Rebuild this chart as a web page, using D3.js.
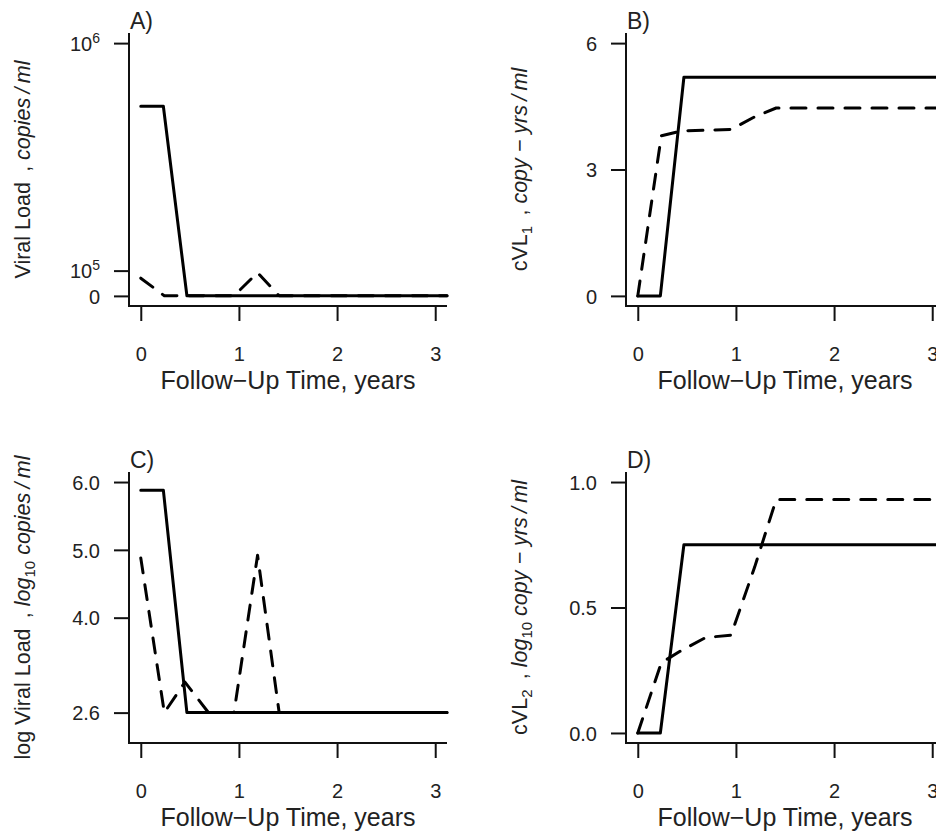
<!DOCTYPE html>
<html>
<head>
<meta charset="utf-8">
<script src="https://cdn.jsdelivr.net/npm/d3@7"></script>
<style>
  body { margin: 0; background: #fff; }
  svg { display: block; }
  text { font-family: "Liberation Sans", Arial, sans-serif; fill: #222; }
</style>
</head>
<body>
<div id="fig"></div>
<script>
// time axis (years)
const xTicks = [0, 1, 2, 3];
const solidTimes = [0, 0.23, 0.47, 3.12];
const dashedTimes = [0, 0.24, 0.45, 0.69, 0.95, 1.19, 1.41, 3.12];

// A) viral load, copies/ml
const vlSolid = [750000, 750000, 400, 400];
const vlDashed = [70000, 400, 1100, 400, 400, 92000, 400, 400];
const vlTicks = [0, 100000, 1000000];
const vlTickLabels = [["0"], ["10", "5"], ["10", "6"]];

// B) cVL1, copy-yrs/ml
const cvl1Solid = [0, 0, 5.19, 5.19];
const cvl1Dashed = [0, 3.8, 3.92, 3.93, 3.95, 4.25, 4.46, 4.46];
const cvl1Ticks = [0, 3, 6];
const cvl1TickLabels = [["0"], ["3"], ["6"]];

// C) log10 viral load
const logSolid = [5.88, 5.88, 2.6, 2.6];
const logDashed = [4.88, 2.6, 3.05, 2.6, 2.6, 4.92, 2.6, 2.6];
const logTicks = [2.6, 4, 5, 6];
const logTickLabels = [["2.6"], ["4.0"], ["5.0"], ["6.0"]];

// D) cVL2, log10 copy-yrs/ml
const cvl2Solid = [0, 0, 0.75, 0.75];
const cvl2Dashed = [0, 0.28, 0.33, 0.38, 0.39, 0.66, 0.93, 0.93];
const cvl2Ticks = [0, 0.5, 1];
const cvl2TickLabels = [["0.0"], ["0.5"], ["1.0"]];

const W = 936, H = 833;
const svg = d3.select("#fig").append("svg")
    .attr("width", W)
    .attr("height", H);

const thin = "\u2009";
const panels = [
    { tag: "A)", left: 129, top: 33, bottom: 306, yDomain: [-40000, 1040000],
      solid: vlSolid, dashed: vlDashed, ticks: vlTicks, labels: vlTickLabels,
      title: [{t: "Viral Load" + thin + " , "}, {t: "copies" + thin + "/" + thin + "ml", it: true}] },
    { tag: "B)", left: 626, top: 33, bottom: 306, yDomain: [-0.24, 6.24],
      solid: cvl1Solid, dashed: cvl1Dashed, ticks: cvl1Ticks, labels: cvl1TickLabels,
      title: [{t: "cVL"}, {t: "1", sub: true}, {t: thin + " , "}, {t: "copy \u2212 yrs" + thin + "/" + thin + "ml", it: true}] },
    { tag: "C)", left: 129, top: 472, bottom: 743, yDomain: [2.152, 6.148],
      solid: logSolid, dashed: logDashed, ticks: logTicks, labels: logTickLabels,
      title: [{t: "log Viral Load" + thin + " , "}, {t: "log", it: true}, {t: "10", sub: true}, {t: " copies" + thin + "/" + thin + "ml", it: true}] },
    { tag: "D)", left: 626, top: 472, bottom: 743, yDomain: [-0.04, 1.04],
      solid: cvl2Solid, dashed: cvl2Dashed, ticks: cvl2Ticks, labels: cvl2TickLabels,
      title: [{t: "cVL"}, {t: "2", sub: true}, {t: thin + " , "}, {t: "log", it: true}, {t: "10", sub: true}, {t: " copy \u2212 yrs" + thin + "/" + thin + "ml", it: true}] }
];

const plotW = 318;

function drawPanel(p) {
    const right = p.left + plotW;
    const g = svg.append("g");

    const x = d3.scaleLinear().domain([-0.12, 3.12]).range([p.left, right]);
    const y = d3.scaleLinear().domain(p.yDomain).range([p.bottom, p.top]);

    // x axis ticks
    const xa = g.append("g")
        .attr("transform", `translate(0,${p.bottom})`)
        .call(d3.axisBottom(x).tickValues(xTicks).tickFormat(d3.format("d"))
            .tickSize(15).tickPadding(26));
    xa.select(".domain").remove();
    xa.selectAll("line").attr("stroke", "#111").attr("stroke-width", 2);
    xa.selectAll("text").attr("font-size", 20).attr("fill", "#222");

    // y axis ticks
    const ya = g.append("g")
        .attr("transform", `translate(${p.left},0)`)
        .call(d3.axisLeft(y).tickValues(p.ticks).tickFormat("")
            .tickSize(15).tickPadding(14));
    ya.select(".domain").remove();
    ya.selectAll("line").attr("stroke", "#111").attr("stroke-width", 2);
    ya.selectAll(".tick").each(function(d, i) {
        const lab = p.labels[i];
        const t = d3.select(this).append("text")
            .attr("x", -29)
            .attr("dy", "0.36em")
            .attr("text-anchor", "end")
            .attr("font-size", 20)
            .attr("fill", "#222");
        t.append("tspan").text(lab[0]);
        if (lab[1]) {
            t.append("tspan").attr("dy", -8).attr("font-size", 14).text(lab[1]);
        }
    });

    // L-shaped frame
    g.append("path")
        .attr("d", `M${p.left},${p.top}V${p.bottom}H${right}`)
        .attr("fill", "none")
        .attr("stroke", "#111")
        .attr("stroke-width", 2);

    const solidLine = d3.line()
        .x((d, i) => x(solidTimes[i]))
        .y(d => y(d));
    const dashedLine = d3.line()
        .x((d, i) => x(dashedTimes[i]))
        .y(d => y(d));

    g.append("path")
        .attr("d", solidLine(p.solid))
        .attr("fill", "none")
        .attr("stroke", "#000")
        .attr("stroke-width", 3)
        .attr("stroke-linejoin", "round")
        .attr("stroke-linecap", "round");

    g.append("path")
        .attr("d", dashedLine(p.dashed))
        .attr("fill", "none")
        .attr("stroke", "#000")
        .attr("stroke-width", 3)
        .attr("stroke-dasharray", "15,12")
        .attr("stroke-linejoin", "round")
        .attr("stroke-linecap", "round");

    // panel tag
    g.append("text")
        .attr("x", p.left + 1)
        .attr("y", p.top - 4)
        .attr("font-size", 23)
        .attr("fill", "#222")
        .text(p.tag);

    // x title
    g.append("text")
        .attr("x", (p.left + right) / 2)
        .attr("y", p.bottom + 83)
        .attr("text-anchor", "middle")
        .attr("font-size", 25)
        .attr("fill", "#222")
        .text("Follow\u2212Up Time, years");

    // y title, rotated
    const yt = g.append("text")
        .attr("transform", `translate(${p.left - 99},${(p.top + p.bottom) / 2}) rotate(-90)`)
        .attr("text-anchor", "middle")
        .attr("font-size", 21.5)
        .attr("fill", "#222");
    let shift = 0;
    p.title.forEach(part => {
        const ts = yt.append("tspan").text(part.t);
        const want = part.sub ? 5 : 0;
        if (want !== shift) { ts.attr("dy", want - shift); shift = want; }
        if (part.it) ts.attr("font-style", "italic");
        if (part.sub) ts.attr("font-size", 15);
    });
}

panels.forEach(drawPanel);
</script>
</body>
</html>
